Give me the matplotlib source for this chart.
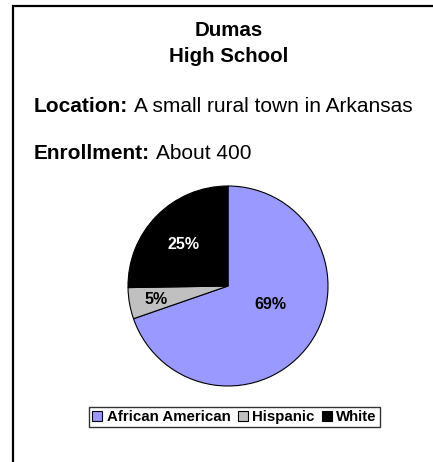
import matplotlib
matplotlib.use("Agg")
import matplotlib.pyplot as plt
from matplotlib.patches import Rectangle, Patch

plt.rcParams['font.family'] = ['Liberation Sans', 'DejaVu Sans']

categories = ["African American", "Hispanic", "White"]
values = [69, 5, 25]
colors = ["#9999FF", "#C0C0C0", "#000000"]
label_colors = ["black", "black", "white"]
label_pos = [(0.42, -0.19), (-0.72, -0.14), (-0.45, 0.41)]

W, H = 433, 462
fig = plt.figure(figsize=(W / 100, H / 100), dpi=100)

# outer frame (visible on left and top)
fig.patches.append(Rectangle((12.5 / W, -0.1), 1.2, (H - 6.5) / H + 0.1,
                             transform=fig.transFigure, fill=False,
                             edgecolor="black", linewidth=1.6))

fig.text(229 / W, 1 - 31 / H, "Dumas", ha="center", va="center",
         fontsize=14.8, fontweight="bold")
fig.text(229 / W, 1 - 57 / H, "High School", ha="center", va="center",
         fontsize=14.8, fontweight="bold")

t = fig.text(34 / W, 1 - 106 / H, "Location:", ha="left", va="center",
             fontsize=15, fontweight="bold")
fig.canvas.draw()
r = fig.canvas.get_renderer()
bb = t.get_window_extent(r)
fig.text(bb.x1 / W + 6 / W, 1 - 106 / H, "A small rural town in Arkansas",
         ha="left", va="center", fontsize=15)
t2 = fig.text(34 / W, 1 - 154 / H, "Enrollment:", ha="left", va="center",
              fontsize=15, fontweight="bold")
bb2 = t2.get_window_extent(r)
fig.text(bb2.x1 / W + 6 / W, 1 - 154 / H, "About 400",
         ha="left", va="center", fontsize=15)

# pie
cx, cy, rad = 228, 286, 101
ax = fig.add_axes([(cx - rad) / W, (H - cy - rad) / H, 2 * rad / W, 2 * rad / H])
wedges, texts, autotexts = ax.pie(
    values, colors=colors, startangle=90, counterclock=False,
    wedgeprops=dict(edgecolor="black", linewidth=0.8),
    autopct="%d%%", pctdistance=0.6)
for i, at in enumerate(autotexts):
    at.set_text(f"{values[i]}%")
    at.set_position(label_pos[i])
    at.set_color(label_colors[i])
    at.set_fontsize(11.5)
    at.set_fontweight("bold")
    at.set_ha("center")
    at.set_va("center")
ax.set_xlim(-1.01, 1.01)
ax.set_ylim(-1.01, 1.01)
ax.set_aspect("equal")
ax.axis("off")

handles = [Patch(facecolor=c, edgecolor="black", linewidth=0.8) for c in colors]
leg = fig.legend(handles, categories, loc="center",
                 bbox_to_anchor=(234.5 / W, 1 - 417 / H), ncol=3,
                 frameon=True, fancybox=False, edgecolor="black",
                 prop=dict(size=10.8, weight="bold"),
                 handlelength=0.65, handleheight=0.65, handletextpad=0.3,
                 columnspacing=0.5, borderpad=0.2, borderaxespad=0)
leg.get_frame().set_linewidth(1.0)

fig.savefig("out.png", dpi=100)
